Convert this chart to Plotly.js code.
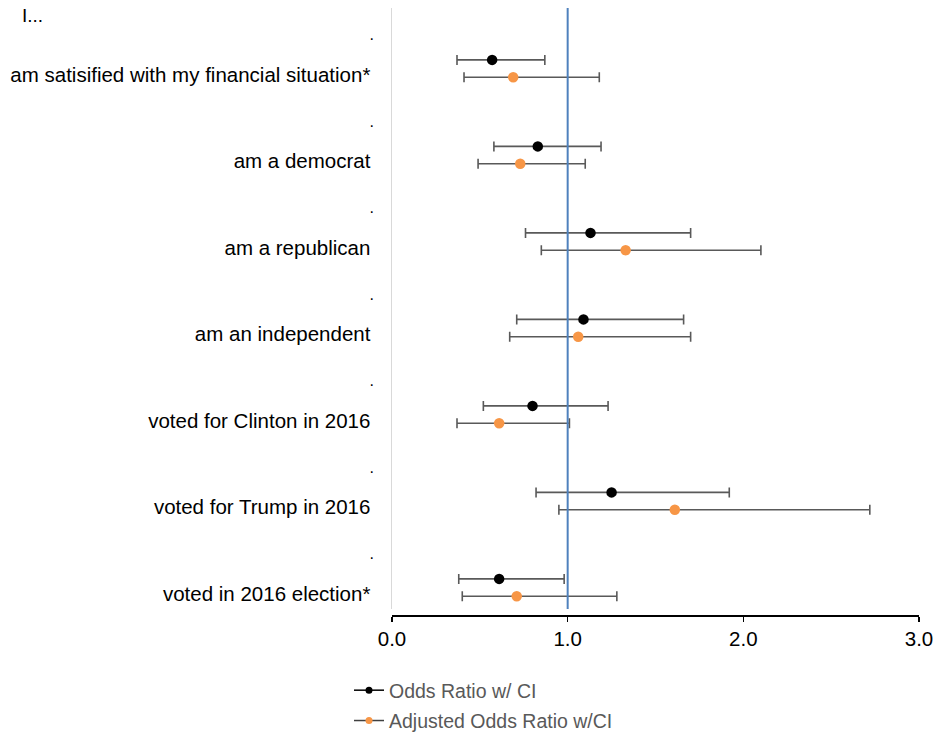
<!DOCTYPE html>
<html>
<head>
<meta charset="utf-8">
<script src="https://cdn.plot.ly/plotly-3.0.1.min.js"></script>
<style>html,body{margin:0;padding:0;background:#fff;}#chart{width:940px;height:738px;}</style>
</head>
<body>
<div id="chart"></div>
<script>
// Data
const categories = [
  "am satisified with my financial situation*",
  "am a democrat",
  "am a republican",
  "am an independent",
  "voted for Clinton in 2016",
  "voted for Trump in 2016",
  "voted in 2016 election*"
];
const orValues   = [0.57, 0.83, 1.13, 1.09, 0.80, 1.25, 0.61];
const orLower    = [0.37, 0.58, 0.76, 0.71, 0.52, 0.82, 0.38];
const orUpper    = [0.87, 1.19, 1.70, 1.66, 1.23, 1.92, 0.98];
const adjValues  = [0.69, 0.73, 1.33, 1.06, 0.61, 1.61, 0.71];
const adjLower   = [0.41, 0.49, 0.85, 0.67, 0.37, 0.95, 0.40];
const adjUpper   = [1.18, 1.10, 2.10, 1.70, 1.01, 2.72, 1.28];
const seriesNames = ["Odds Ratio w/ CI", "Adjusted Odds Ratio w/CI"];
const xTicks = [0, 1, 2, 3];
const yTitle = "I...";

// layout helpers (row positions)
const rowIdx = categories.map((_, i) => i);
const offOR = 0.6, offAdj = 0.8, offLabel = 0.77, offDot = 0.31;
const yMax = 601 / 86.5;
const paperH = 607;                 // plot paper height in px
const yDom = [6 / paperH, 1];       // leaves a small gap above the x axis line

const errColor = "#595959";
const orColor = "#000000";
const adjColor = "#F79646";

function trace(vals, lo, hi, off, color, name) {
  return {
    type: "scatter", mode: "markers", name: name, showlegend: false,
    x: vals, y: rowIdx.map(i => i + off),
    marker: {color: color, size: 10.5},
    error_x: {
      type: "data", symmetric: false,
      array: hi.map((h, i) => h - vals[i]),
      arrayminus: lo.map((l, i) => vals[i] - l),
      color: errColor, thickness: 1.6, width: 5
    },
    hoverinfo: "x"
  };
}

const data = [
  trace(orValues, orLower, orUpper, offOR, orColor, seriesNames[0]),
  trace(adjValues, adjLower, adjUpper, offAdj, adjColor, seriesNames[1]),
  {type: "scatter", mode: "lines+markers", name: seriesNames[0], x: [null], y: [null],
   legendgroup: "a", line: {color: "#000000", width: 1.5}, marker: {color: orColor, size: 7}},
  {type: "scatter", mode: "lines+markers", name: seriesNames[1], x: [null], y: [null],
   legendgroup: "b", line: {color: "#404040", width: 1.5}, marker: {color: adjColor, size: 7}},
  {type: "scatter", mode: "markers", x: [null], y: [null], yaxis: "y2", showlegend: false, hoverinfo: "skip"}
];

const layout = {
  width: 940, height: 738,
  margin: {l: 392, r: 21, t: 8, b: 123},
  paper_bgcolor: "#ffffff", plot_bgcolor: "#ffffff",
  font: {family: "Liberation Sans, Arial, sans-serif", color: "#000000"},
  showlegend: true,
  legend: {
    xref: "paper", yref: "container",
    x: (349 - 392) / 527, xanchor: "left", y: 1 - 671 / 738, yanchor: "top",
    orientation: "v", font: {size: 19.5, color: "#595959"},
    itemwidth: 30, tracegroupgap: 2, bgcolor: "rgba(0,0,0,0)"
  },
  xaxis: {
    range: [0, 3], tickvals: xTicks, tickformat: ".1f",
    anchor: "free", position: 0,
    showgrid: false, zeroline: false,
    showline: true, linecolor: "#000000", linewidth: 1.5,
    ticks: "outside", ticklen: 5, tickwidth: 1.5, tickcolor: "#000000",
    tickfont: {size: 20.5, color: "#000000"}, fixedrange: true
  },
  yaxis: {
    domain: yDom,
    range: [yMax, 0], showgrid: false, zeroline: false,
    showline: true, linecolor: "#d9d9d9", linewidth: 1.5,
    tickvals: rowIdx.map(i => i + offLabel), ticktext: categories,
    ticks: "", ticklabelstandoff: 16,
    tickfont: {size: 20.5, color: "#000000"}, fixedrange: true
  },
  yaxis2: {
    domain: yDom,
    overlaying: "y", side: "left", range: [yMax, 0],
    showgrid: false, zeroline: false, showline: false,
    tickvals: rowIdx.map(i => i + offDot), ticktext: rowIdx.map(() => "."),
    ticks: "", ticklabelstandoff: 17,
    tickfont: {size: 16, color: "#000000"}, fixedrange: true
  },
  shapes: [{
    type: "line", xref: "x", yref: "y domain", x0: 1, x1: 1, y0: 0, y1: 1,
    line: {color: "#4F81BD", width: 2}
  }],
  annotations: [{
    text: yTitle, xref: "paper", yref: "paper",
    x: (20 - 392) / 527, y: (615 - 16) / paperH, xanchor: "left", yanchor: "middle",
    showarrow: false, font: {size: 19, color: "#000000"}
  }]
};

Plotly.newPlot("chart", data, layout, {displayModeBar: false, staticPlot: true});
</script>
</body>
</html>
